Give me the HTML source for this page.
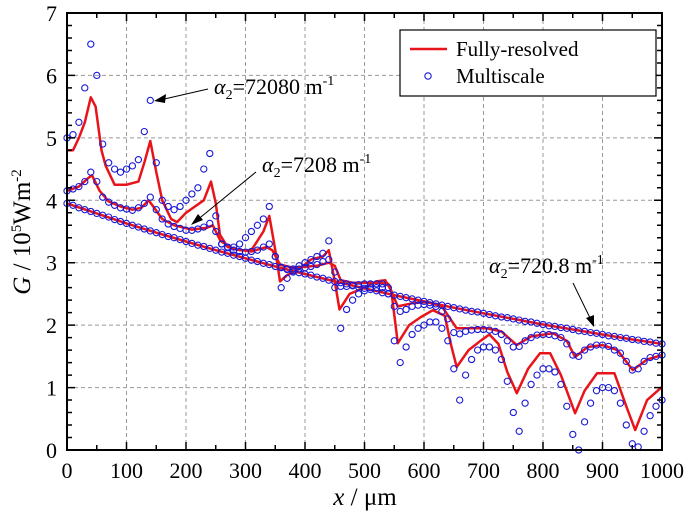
<!DOCTYPE html>
<html><head><meta charset="utf-8"><style>
body{margin:0;background:#fff}
svg{display:block;font-family:"Liberation Serif",serif}
</style></head><body>
<svg id="chart" width="685" height="516" viewBox="0 0 685 516">
<g id="grid"></g>
<g id="series"></g>
<g id="axes"></g>
<g>
<rect x="400" y="30" width="256" height="66" fill="#fff" stroke="#000" stroke-width="1.2"/>
<line x1="410" y1="49" x2="447" y2="49" stroke="#e8141a" stroke-width="2.5"/>
<text x="456" y="56" font-size="21">Fully-resolved</text>
<circle cx="428" cy="76" r="3.2" fill="none" stroke="#1818d8" stroke-width="1.1"/>
<text x="456" y="83" font-size="21">Multiscale</text>
</g>
<g font-size="22">
<text x="214" y="94"><tspan font-style="italic">α</tspan><tspan font-size="14" dy="5">2</tspan><tspan dy="-5">=72080 m</tspan><tspan font-size="14" dy="-9">-1</tspan></text>
<line x1="208" y1="89" x2="160" y2="100" stroke="#000" stroke-width="1"/>
<polygon points="154,101 166,94 165,103" fill="#000"/>
<text x="262" y="172"><tspan font-style="italic">α</tspan><tspan font-size="14" dy="5">2</tspan><tspan dy="-5">=7208 m</tspan><tspan font-size="14" dy="-9">-1</tspan></text>
<line x1="256" y1="172" x2="196" y2="221" stroke="#000" stroke-width="1"/>
<polygon points="191,225 198,214 203,220" fill="#000"/>
<text x="489" y="273"><tspan font-style="italic">α</tspan><tspan font-size="14" dy="5">2</tspan><tspan dy="-5">=720.8 m</tspan><tspan font-size="14" dy="-9">-1</tspan></text>
<line x1="573" y1="283" x2="591" y2="320" stroke="#000" stroke-width="1"/>
<polygon points="594,327 586,318 594,315" fill="#000"/>
</g>
<text x="365" y="505" font-size="25" text-anchor="middle"><tspan font-style="italic">x</tspan> / μm</text>
<text transform="translate(30,232) rotate(-90)" font-size="25" text-anchor="middle"><tspan font-style="italic">G</tspan> / 10<tspan font-size="15" dy="-9">5</tspan><tspan dy="9">Wm</tspan><tspan font-size="15" dy="-9">-2</tspan></text>
</svg>
<script>
const xTicks=[0,100,200,300,400,500,600,700,800,900,1000];
const yTicks=[0,1,2,3,4,5,6,7];
const stepX=[0,10,20,30,40,50,60,70,80,90,100,110,120,130,140,150,160,170,180,190,200,210,220,230,240,250,260,270,280,290,300,310,320,330,340,350,360,370,380,390,400,410,420,430,440,450,460,470,480,490,500,510,520,530,540,550,560,570,580,590,600,610,620,630,640,650,660,670,680,690,700,710,720,730,740,750,760,770,780,790,800,810,820,830,840,850,860,870,880,890,900,910,920,930,940,950,960,970,980,990,1000];
const ms720=[3.95,3.92,3.88,3.85,3.82,3.79,3.76,3.73,3.69,3.66,3.63,3.60,3.57,3.54,3.51,3.48,3.45,3.42,3.40,3.37,3.34,3.31,3.28,3.26,3.23,3.20,3.17,3.15,3.12,3.10,3.07,3.04,3.02,2.99,2.97,2.94,2.92,2.89,2.87,2.84,2.82,2.80,2.77,2.75,2.72,2.70,2.68,2.66,2.63,2.61,2.59,2.57,2.55,2.52,2.50,2.48,2.46,2.44,2.42,2.40,2.38,2.36,2.34,2.32,2.30,2.28,2.26,2.24,2.22,2.21,2.19,2.17,2.15,2.13,2.12,2.10,2.08,2.06,2.05,2.03,2.01,1.99,1.98,1.96,1.95,1.93,1.91,1.90,1.88,1.87,1.85,1.83,1.82,1.80,1.79,1.77,1.76,1.74,1.73,1.71,1.70];
const ms7208=[4.15,4.18,4.22,4.3,4.45,4.3,4.05,3.97,3.92,3.88,3.86,3.84,3.88,3.95,4.05,3.85,3.7,3.62,3.58,3.55,3.52,3.52,3.54,3.57,3.63,3.5,3.3,3.24,3.2,3.18,3.17,3.18,3.2,3.25,3.3,3.1,2.93,2.9,2.9,2.9,2.92,2.94,2.97,3.02,3.05,2.85,2.62,2.62,2.64,2.65,2.66,2.66,2.66,2.66,2.6,2.3,2.22,2.25,2.3,2.32,2.33,2.32,2.3,2.22,2.1,1.88,1.86,1.9,1.92,1.93,1.93,1.92,1.9,1.85,1.75,1.65,1.66,1.75,1.8,1.84,1.85,1.85,1.83,1.8,1.7,1.52,1.5,1.6,1.65,1.68,1.68,1.66,1.6,1.55,1.42,1.28,1.3,1.42,1.48,1.5,1.52];
const ms72080=[5.0,5.05,5.25,5.8,6.5,6.0,4.9,4.6,4.5,4.45,4.5,4.55,4.65,5.1,5.6,4.6,4.0,3.9,3.85,3.9,4.0,4.1,4.2,4.5,4.75,3.75,3.3,3.25,3.25,3.3,3.4,3.5,3.6,3.7,3.9,3.1,2.6,2.75,2.85,2.95,3.0,3.05,3.1,3.15,3.35,2.6,1.95,2.25,2.4,2.5,2.55,2.6,2.6,2.6,2.5,1.75,1.4,1.65,1.85,1.95,2.0,2.05,2.05,1.95,1.75,1.3,0.8,1.2,1.45,1.6,1.65,1.65,1.6,1.45,1.1,0.6,0.3,0.75,1.05,1.2,1.3,1.3,1.25,1.05,0.7,0.25,0.0,0.45,0.75,0.95,1.0,1.0,0.95,0.75,0.4,0.1,0.05,0.3,0.55,0.7,0.8];
const fr720X=[0,50,100,150,200,250,300,350,400,450,500,550,600,650,700,750,800,850,900,950,1000];
const fr720Y=[3.95,3.79,3.63,3.48,3.34,3.20,3.07,2.94,2.82,2.70,2.59,2.48,2.38,2.28,2.19,2.10,2.01,1.93,1.85,1.77,1.70];
const fr7208X=[0,20,35,42,55,70,90,110,125,137,145,160,180,210,235,245,258,280,310,335,345,358,380,420,440,450,460,480,520,540,556,580,605,630,655,680,705,730,756,780,817,840,854,875,900,925,951,975,1000];
const fr7208Y=[4.15,4.22,4.35,4.4,4.15,3.98,3.9,3.85,3.88,4.0,3.9,3.7,3.6,3.53,3.56,3.6,3.35,3.22,3.18,3.25,3.2,2.97,2.92,2.95,3.0,2.95,2.72,2.68,2.68,2.66,2.3,2.35,2.37,2.3,1.95,1.95,1.95,1.9,1.68,1.82,1.87,1.75,1.49,1.65,1.68,1.6,1.28,1.45,1.52];
const fr72080X=[0,10,20,30,40,48,58,65,80,100,120,130,140,150,160,175,185,200,215,230,242,250,257,270,290,310,330,340,350,358,370,390,410,430,440,450,458,475,500,520,535,545,556,575,595,615,635,645,655,675,695,710,725,740,756,775,795,812,830,854,870,891,920,940,955,975,1000];
const fr72080Y=[4.8,4.8,5.0,5.25,5.65,5.5,4.8,4.55,4.25,4.25,4.3,4.6,4.95,4.45,4.0,3.7,3.65,3.8,3.9,4.0,4.3,3.95,3.45,3.25,3.2,3.2,3.5,3.75,3.2,2.7,2.8,2.9,3.05,3.1,3.2,2.7,2.25,2.5,2.6,2.7,2.72,2.55,1.71,2.0,2.13,2.24,2.15,1.7,1.33,1.6,1.75,1.85,1.7,1.25,0.91,1.3,1.55,1.55,1.2,0.59,0.95,1.23,1.23,0.7,0.32,0.8,1.01];

const L=67,R=662,T=13,B=450;
const sx=v=>L+(R-L)*v/1000;
const sy=v=>B-(B-T)*v/7;
const NS='http://www.w3.org/2000/svg';
function mk(tag,attrs,parent){const e=document.createElementNS(NS,tag);for(const k in attrs)e.setAttribute(k,attrs[k]);parent.appendChild(e);return e;}
const grid=document.getElementById('grid'),axes=document.getElementById('axes'),ser=document.getElementById('series');
xTicks.forEach(t=>{
  if(t>0&&t<1000){const g=mk('line',{x1:sx(t),x2:sx(t),y1:T,y2:B,stroke:'#999','stroke-dasharray':'4,3','stroke-width':1},grid);
  
  }
  const tx=mk('text',{x:sx(t),y:B+28,'font-size':22,'text-anchor':'middle'},axes);tx.textContent=t;
  
  
});
yTicks.forEach(t=>{
  if(t>0&&t<7){const g=mk('line',{x1:L,x2:R,y1:sy(t),y2:sy(t),stroke:'#999','stroke-dasharray':'4,3','stroke-width':1},grid);
  
  }
  const tx=mk('text',{x:L-10,y:sy(t)+8,'font-size':22,'text-anchor':'end'},axes);tx.textContent=t;
  
  
});
let tk='';
for(let v=0;v<=1000;v+=50){const len=(v%100===0)?8:5;tk+=`M${sx(v)},${B}v${-len}M${sx(v)},${T}v${len}`;}
for(let i=0;i<=35;i++){const v=i*0.2;const len=(i%5===0)?8:5;tk+=`M${L},${sy(v)}h${len}M${R},${sy(v)}h${-len}`;}
const tp=mk('path',{d:tk,stroke:'#000','stroke-width':1.5,fill:'none'},axes);


const fr=mk('rect',{x:L,y:T,width:R-L,height:B-T,fill:'none',stroke:'#000','stroke-width':2},axes);



function line(xs,ys,name){
  const d=xs.map((x,i)=>(i?'L':'M')+sx(x).toFixed(1)+','+sy(ys[i]).toFixed(1)).join('');
  const p=mk('path',{d,stroke:'#e8141a','stroke-width':2.5,fill:'none','stroke-linejoin':'round'},ser);
  
  
}
function marks(ys,name){
  ys.forEach((y,i)=>{const c=mk('circle',{cx:sx(stepX[i]).toFixed(1),cy:sy(y).toFixed(1),r:3.1,fill:'none',stroke:'#1818d8','stroke-width':1.1},ser);
  
  });
}
line(fr720X,fr720Y,'fully-resolved-720-8');
line(fr7208X,fr7208Y,'fully-resolved-7208');
line(fr72080X,fr72080Y,'fully-resolved-72080');
marks(ms720,'multiscale-720-8-point');
marks(ms7208,'multiscale-7208-point');
marks(ms72080,'multiscale-72080-point');
</script>
</body></html>
